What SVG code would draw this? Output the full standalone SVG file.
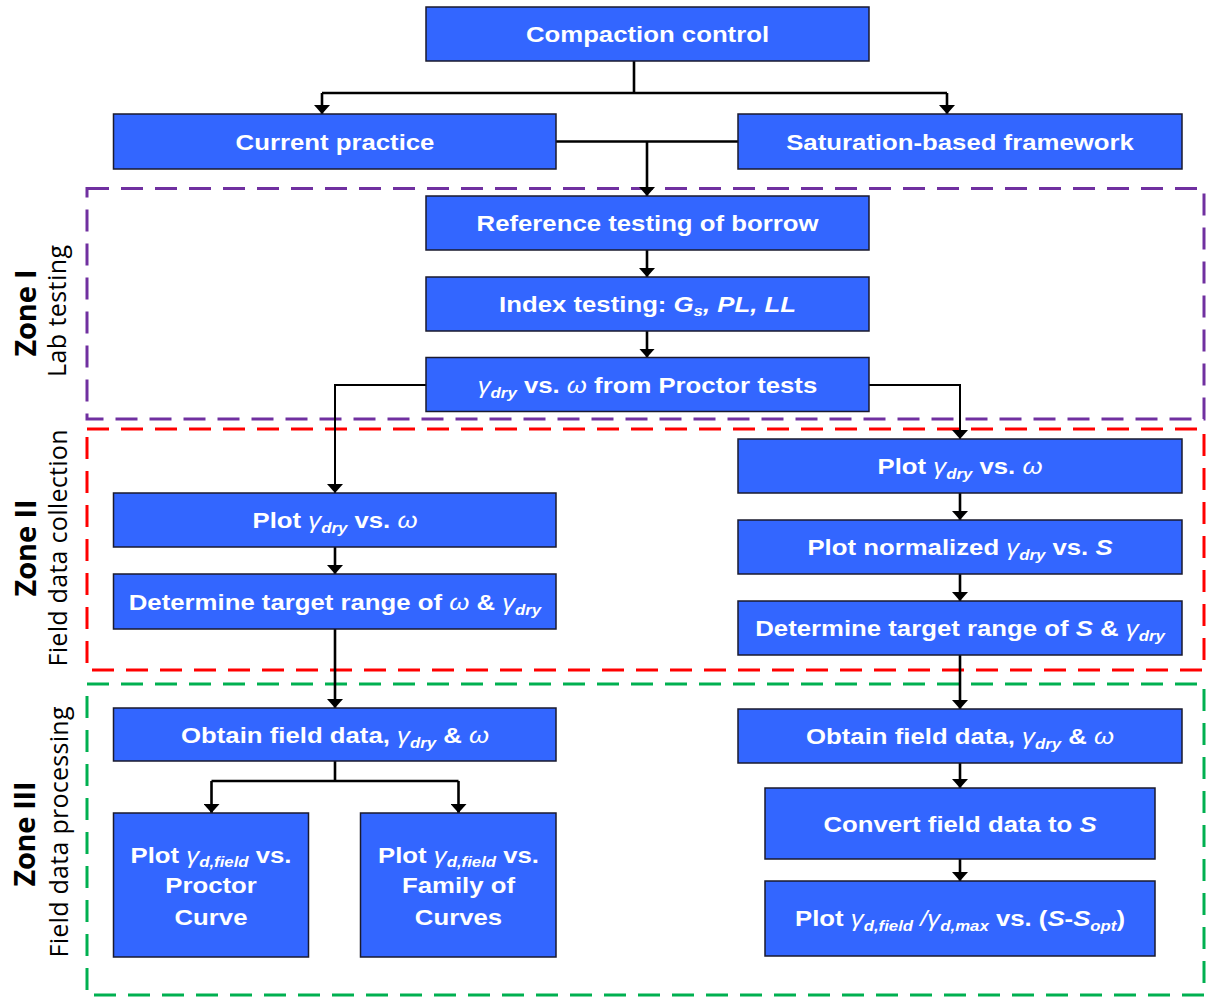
<svg xmlns="http://www.w3.org/2000/svg" width="1206" height="997" viewBox="0 0 1206 997">
<style>
.box{fill:#3366FF;stroke:#1a1a2e;stroke-width:1.5}
.t{font-family:"Liberation Sans",Arial,sans-serif;font-weight:bold;font-size:23px;fill:#fff;text-anchor:middle}
.g{font-style:italic;font-weight:normal}
.i{font-style:italic}
.sub{font-size:15px;font-style:italic}
.c{fill:none;stroke:#000;stroke-width:2.6}
.cm{fill:none;stroke:#000;stroke-width:2.6;marker-end:url(#ah)}
.zone{fill:none;stroke-width:3;stroke-dasharray:22 12}
.zt{font-family:"Open Sans","DejaVu Sans",sans-serif;font-size:29px;font-weight:bold;fill:#000;text-anchor:middle}
.zs{font-family:"Open Sans","DejaVu Sans",sans-serif;font-size:25px;fill:#000;text-anchor:middle}
</style>
<defs>
<marker id="ah" viewBox="0 0 9 16" refX="9" refY="8" markerWidth="9" markerHeight="16" markerUnits="userSpaceOnUse" orient="auto">
<path d="M0,0 L9,8 L0,16 z" fill="#000"/>
</marker>
</defs>
<rect width="1206" height="997" fill="#fff"/>

<g id="zones">
<rect class="zone" x="87" y="188.5" width="1117" height="230.5" stroke="#7030A0"/>
<rect class="zone" x="87" y="429" width="1117" height="241" stroke="#FF0000"/>
<rect class="zone" x="87" y="684" width="1117" height="311" stroke="#00B050"/>
</g>

<g id="zone-labels">
<text class="zt" transform="translate(36,313) rotate(-90)" textLength="87">Zone I</text>
<text class="zs" transform="translate(66,311) rotate(-90)" textLength="132">Lab testing</text>
<text class="zt" transform="translate(36,548) rotate(-90)" textLength="97">Zone II</text>
<text class="zs" transform="translate(67,548) rotate(-90)" textLength="237">Field data collection</text>
<text class="zt" transform="translate(35,834) rotate(-90)" textLength="105">Zone III</text>
<text class="zs" transform="translate(68,832) rotate(-90)" textLength="251">Field data processing</text>
</g>

<g id="connectors">
<path class="c" d="M634,61 V93"/>
<path class="c" d="M322,93 H947"/>
<path class="cm" d="M322,93 V114"/>
<path class="cm" d="M947,93 V114"/>
<path class="c" d="M556,141.5 H738"/>
<path class="cm" d="M647,141.5 V196"/>
<path class="cm" d="M647,250 V277"/>
<path class="cm" d="M647,331 V357.5"/>
<path class="cm" style="stroke-width:2" d="M426,385 H335 V493"/>
<path class="cm" style="stroke-width:2" d="M869,385 H960 V439"/>
<path class="cm" d="M335,547 V574"/>
<path class="cm" d="M335,629 V708"/>
<path class="c" d="M335,761 V781 M211.5,781 H458.5"/>
<path class="cm" d="M211.5,781 V813"/>
<path class="cm" d="M458.5,781 V813"/>
<path class="cm" d="M960,493 V520"/>
<path class="cm" d="M960,574 V601"/>
<path class="cm" d="M960,655 V709"/>
<path class="cm" d="M960,763 V788"/>
<path class="cm" d="M960,859 V881"/>
</g>

<g id="n-compaction"><rect class="box" x="426" y="7" width="443" height="54"/>
<text class="t" transform="matrix(1.12 0 0 1 647.5 42)">Compaction control</text></g>

<g id="n-current"><rect class="box" x="113.5" y="114" width="442.5" height="55"/>
<text class="t" transform="matrix(1.12 0 0 1 335 149.5)">Current practice</text></g>

<g id="n-saturation"><rect class="box" x="738" y="114" width="444" height="55"/>
<text class="t" transform="matrix(1.12 0 0 1 960 149.5)">Saturation-based framework</text></g>

<g id="n-reference"><rect class="box" x="426" y="196" width="443" height="54"/>
<text class="t" transform="matrix(1.12 0 0 1 647.5 231)">Reference testing of borrow</text></g>

<g id="n-index"><rect class="box" x="426" y="277" width="443" height="54"/>
<text class="t" transform="matrix(1.12 0 0 1 647.5 312)">Index testing: <tspan class="i">G</tspan><tspan class="sub" dy="4">s</tspan><tspan class="i" dy="-4">, PL, LL</tspan></text></g>

<g id="n-proctor"><rect class="box" x="426" y="357.5" width="443" height="54"/>
<text class="t" transform="matrix(1.12 0 0 1 647.5 392.5)"><tspan class="g">γ</tspan><tspan class="sub" dy="5">dry</tspan><tspan dy="-5"> vs. </tspan><tspan class="g">ω</tspan> from Proctor tests</text></g>

<g id="n-plot-left"><rect class="box" x="113.5" y="493" width="442.5" height="54"/>
<text class="t" transform="matrix(1.12 0 0 1 335 528)">Plot <tspan class="g">γ</tspan><tspan class="sub" dy="5">dry</tspan><tspan dy="-5"> vs. </tspan><tspan class="g">ω</tspan></text></g>

<g id="n-determine-left"><rect class="box" x="113.5" y="574" width="442.5" height="55"/>
<text class="t" transform="matrix(1.12 0 0 1 335 609.5)">Determine target range of <tspan class="g">ω</tspan> &amp; <tspan class="g">γ</tspan><tspan class="sub" dy="5">dry</tspan></text></g>

<g id="n-plot-right"><rect class="box" x="738" y="439" width="444" height="54"/>
<text class="t" transform="matrix(1.12 0 0 1 960 474)">Plot <tspan class="g">γ</tspan><tspan class="sub" dy="5">dry</tspan><tspan dy="-5"> vs. </tspan><tspan class="g">ω</tspan></text></g>

<g id="n-normalized"><rect class="box" x="738" y="520" width="444" height="54"/>
<text class="t" transform="matrix(1.12 0 0 1 960 555)">Plot normalized <tspan class="g">γ</tspan><tspan class="sub" dy="5">dry</tspan><tspan dy="-5"> vs. </tspan><tspan class="i">S</tspan></text></g>

<g id="n-determine-right"><rect class="box" x="738" y="601" width="444" height="54"/>
<text class="t" transform="matrix(1.12 0 0 1 960 636)">Determine target range of <tspan class="i">S</tspan> &amp; <tspan class="g">γ</tspan><tspan class="sub" dy="5">dry</tspan></text></g>

<g id="n-obtain-left"><rect class="box" x="113.5" y="708" width="442.5" height="53"/>
<text class="t" transform="matrix(1.12 0 0 1 335 742.5)">Obtain field data, <tspan class="g">γ</tspan><tspan class="sub" dy="5">dry</tspan><tspan dy="-5"> &amp; </tspan><tspan class="g">ω</tspan></text></g>

<g id="n-proctor-curve"><rect class="box" x="113.5" y="813" width="195" height="144"/>
<text class="t" transform="matrix(1.12 0 0 1 211 863)">Plot <tspan class="g">γ</tspan><tspan class="sub" dy="4">d,field</tspan><tspan dy="-4"> vs.</tspan></text>
<text class="t" transform="matrix(1.12 0 0 1 211 893)">Proctor</text>
<text class="t" transform="matrix(1.12 0 0 1 211 925)">Curve</text></g>

<g id="n-family"><rect class="box" x="360.5" y="813" width="195.5" height="144"/>
<text class="t" transform="matrix(1.12 0 0 1 458.5 863)">Plot <tspan class="g">γ</tspan><tspan class="sub" dy="4">d,field</tspan><tspan dy="-4"> vs.</tspan></text>
<text class="t" transform="matrix(1.12 0 0 1 458.5 893)">Family of</text>
<text class="t" transform="matrix(1.12 0 0 1 458.5 925)">Curves</text></g>

<g id="n-obtain-right"><rect class="box" x="738" y="709" width="444" height="54"/>
<text class="t" transform="matrix(1.12 0 0 1 960 744)">Obtain field data, <tspan class="g">γ</tspan><tspan class="sub" dy="5">dry</tspan><tspan dy="-5"> &amp; </tspan><tspan class="g">ω</tspan></text></g>

<g id="n-convert"><rect class="box" x="765" y="788" width="390" height="71"/>
<text class="t" transform="matrix(1.12 0 0 1 960 831.5)">Convert field data to <tspan class="i">S</tspan></text></g>

<g id="n-plot-final"><rect class="box" x="765" y="881" width="390" height="75"/>
<text class="t" transform="matrix(1.12 0 0 1 960 926)">Plot <tspan class="g">γ</tspan><tspan class="sub" dy="5">d,field</tspan><tspan class="g" dy="-5"> /γ</tspan><tspan class="sub" dy="5">d,max</tspan><tspan dy="-5"> vs. (</tspan><tspan class="i">S</tspan>-<tspan class="i">S</tspan><tspan class="sub" dy="5">opt</tspan><tspan dy="-5">)</tspan></text></g>
</svg>
